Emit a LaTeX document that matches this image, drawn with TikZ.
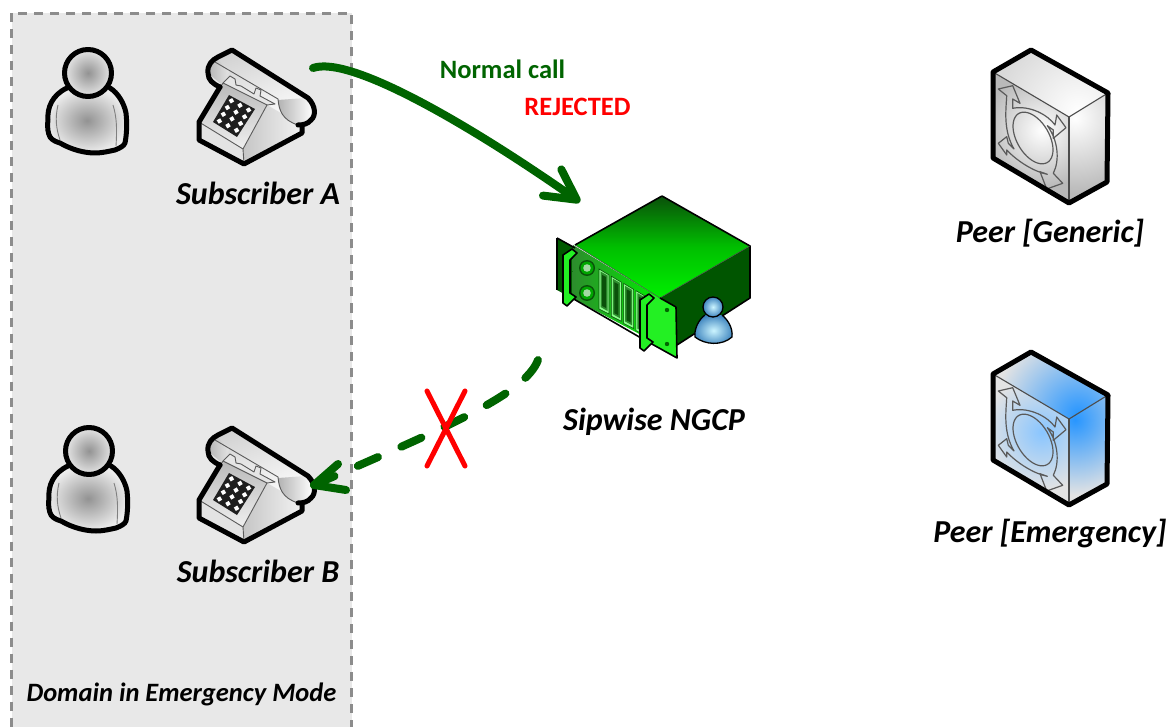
\documentclass[tikz,border=0pt]{standalone}
\usepackage{fontspec}
\setmainfont{Carlito}
\usetikzlibrary{arrows.meta}
\definecolor{callgreen}{RGB}{0,100,0}
\definecolor{boxgray}{RGB}{232,232,232}
\definecolor{dashgray}{RGB}{140,140,140}
\definecolor{linegray}{RGB}{90,90,90}
\definecolor{srvbright}{RGB}{0,240,0}
\definecolor{srvdark}{RGB}{10,80,10}
\definecolor{srvside}{RGB}{0,85,0}
\definecolor{srvlime}{RGB}{35,240,35}
\definecolor{srvleft}{RGB}{45,140,45}
\definecolor{peerblue}{RGB}{40,150,255}
\tikzset{
  x=1pt,y=-1pt,
  bigline/.style={line width=5pt,black,line join=round,line cap=round},
  thinline/.style={line width=.9pt,linegray,line join=round},
  label/.style={font=\bfseries\itshape\fontsize{32}{35}\selectfont,text=black,inner sep=0pt},
  callline/.style={line width=8pt,callgreen,line cap=round},
  xmark/.style={line width=5pt,red,line cap=round},
  srvline/.style={line width=1.6pt,black,line join=round}
}
\newcommand{\personicon}[2]{%
\begin{scope}[shift={(#1,#2)}]
  \shade[inner color=gray!85,outer color=gray!15] (67,88) .. controls (52,95) and (47,108) .. (48,120) .. controls (47,128) and (48,133) .. (50,137) .. controls (53,141) and (57,142) .. (60,143) .. controls (72,150) and (85,153) .. (95,153) .. controls (103,153) and (110,151) .. (115,150) .. controls (120,148) and (124,146) .. (125,143) .. controls (127,133) and (127,122) .. (126,113) .. controls (124,103) and (118,93) .. (110,88) -- cycle;
  \draw[thinline,gray] (58,105) .. controls (55,118) and (56,128) .. (60,140);
  \draw[thinline,gray] (113,105) .. controls (117,118) and (117,130) .. (116,146);
  \draw[bigline] (67,88) .. controls (52,95) and (47,108) .. (48,120) .. controls (47,128) and (48,133) .. (50,137) .. controls (53,141) and (57,142) .. (60,143) .. controls (72,150) and (85,153) .. (95,153) .. controls (103,153) and (110,151) .. (115,150) .. controls (120,148) and (124,146) .. (125,143) .. controls (127,133) and (127,122) .. (126,113) .. controls (124,103) and (118,93) .. (110,88);
  \shade[inner color=gray!85,outer color=gray!20] (88,73) circle[radius=23.5];
  \draw[bigline] (88,73) circle[radius=23.5];
\end{scope}}
\newcommand{\phoneicon}[1]{%
\begin{scope}[shift={(0,#1)}]
  % handset
  \shade[left color=gray!35,right color=white,shading angle=20] (208,73) .. controls (207,65) and (212,60) .. (218,57) -- (232,50) -- (308,98) .. controls (316,106) and (316,116) .. (311,120) .. controls (308,124) and (303,125) .. (298,125) -- (284,118) -- (224,84) -- cycle;
  % right side of body
  \shade[left color=gray!45,right color=gray!10] (243,149) -- (267,105) -- (302,125) -- (302,133) -- (244,164) -- cycle;
  % front of body
  \fill[gray!22] (199,122) -- (243,149) -- (244,164) -- (199,140) -- cycle;
  % key face
  \shade[top color=gray!55,bottom color=gray!12] (223,83) -- (267,105) -- (243,149) -- (199,122) -- cycle;
  % earpiece
  \shade[left color=gray!60,right color=white] (278,100) .. controls (279,110) and (282,120) .. (298,125) .. controls (306,124) and (312,119) .. (313,110) -- (306,98) -- cycle;
  \shade[left color=gray!60,right color=gray!20] (208,73) .. controls (207,65) and (212,60) .. (218,60) -- (230,70) -- (222,85) -- cycle;
  % cradle
  \draw[thinline,fill=white!80!gray] (223,83) -- (230,76) -- (235,79) -- (236,85) -- (241,86) -- (254,94) -- (256,88) -- (261,90) -- (260,96) -- (275,104) -- (267,105);
  \draw[thinline] (215,62) -- (278,99) .. controls (279,110) and (282,120) .. (298,125);
  \draw[thinline] (243,149) -- (267,105);
  \draw[thinline] (243,149) -- (244,164);
  \draw[thinline] (199,122) -- (243,149) ;
  \draw[thinline] (223,83) -- (199,122);
  \draw[thinline] (223,83) -- (267,105);
  % keypad
  \fill[black!88] (229,95) -- (255,109) -- (237,137) -- (213,122) -- cycle;
  \foreach \u in {.17,.5,.83}{
    \foreach \v in {.125,.375,.625,.875}{
      \fill[white,rotate around={30:({229+\u*26-\v*16},{95+\u*14+\v*27})}] ({229+\u*26-\v*16-2},{95+\u*14+\v*27-2}) rectangle ++(4,4);
    }}
  % outlines
  \draw[bigline] (220,87) .. controls (213,84) and (208,80) .. (208,73) .. controls (207,65) and (212,60) .. (218,57) -- (232,50) -- (308,98) .. controls (316,106) and (316,116) .. (311,120) .. controls (308,124) and (303,125) .. (298,125);
  \draw[bigline] (220,87) -- (199,122) -- (199,140) -- (244,164) -- (302,133) -- (302,126);
\end{scope}}
\newcommand{\peericon}[5]{%
% #1 y shift, #2 glow colour, #3 far colour, #4 top far colour, #5 front glow colour
\begin{scope}[shift={(0,#1)}]
  \begin{scope}
    \clip (1031,50) -- (1108,93) -- (1069,117) -- (993,72) -- cycle;
    \fill[#4] (960,30) rectangle (1130,130);
    \shade[inner color=#2,outer color=#4] (1078,112) circle[radius=85];
  \end{scope}
  \begin{scope}
    \clip (1069,117) -- (1108,93) -- (1107,182) -- (1069,203) -- cycle;
    \fill[#3] (1060,80) rectangle (1120,210);
    \shade[inner color=#2,outer color=#3] (1075,118) circle[radius=75];
  \end{scope}
  \begin{scope}
    \clip (993,72) -- (1069,117) -- (1069,203) -- (993,158) -- cycle;
    \fill[#3] (980,60) rectangle (1080,210);
    \shade[inner color=#5,outer color=#3] (1042,130) circle[radius=58];
  \end{scope}
  \draw[thinline,line width=1.2pt] (1006.7,95.7) -- (998.3,89) -- (1012.7,85.7) -- (1020,103.3) -- (1012.7,99) -- (1012.7,108.3) .. controls (1030,105) and (1048,115) .. (1055,125) -- (1056.7,115) -- (1066,127.7) -- (1053.3,138.3) -- (1053.3,130) -- (1047.3,125.7) .. controls (1058,140) and (1060,160) .. (1053.3,173.3) -- (1062.7,183.3) -- (1046.7,189) -- (1040,171.7) -- (1047.3,174.3) .. controls (1035,172) and (1018,162) .. (1006.7,150) -- (1006.7,155) -- (998.3,143.3) -- (1006.7,136.7) -- (1008.3,143.3) -- (1014,149) .. controls (1003,130) and (1006,110) .. (1006.7,95.7) -- cycle;
  \draw[thinline,line width=1.2pt] plot[domain=0:360,samples=48,smooth] ({1033+20*cos(\x)},{138+11.8*cos(\x)+23*sin(\x)});
  \draw[thinline,black!70,line width=1.1pt] (993,72) -- (1069,117) -- (1108,93);
  \draw[thinline,black!70,line width=1.1pt] (1069,117) -- (1069,203);
  \draw[bigline] (1031,50) -- (1108,93) -- (1107,182) -- (1069,203) -- (993,158) -- (993,72) -- cycle;
\end{scope}}
\begin{document}
\begin{tikzpicture}
  \useasboundingbox (0,0) rectangle (1175,727);
  \clip (0,0) rectangle (1175,727);
  \fill[white] (0,0) rectangle (1175,727);
  % domain box
  \draw[fill=boxgray,draw=dashgray,line width=2.2pt,dash pattern=on 9pt off 7pt] (11.5,13.5) rectangle (351.5,745);

  \personicon{0}{0}
  \personicon{1}{378}
  \phoneicon{0}
  \phoneicon{378}

  % Server
  \shade[top color=srvdark,bottom color=srvbright,middle color=green!75!black] (662,196) -- (750,246) -- (660,298) -- (575,245) -- cycle;
  \fill[srvside] (660,298) -- (750,246) -- (750,298) -- (677,345) -- (677,307) -- cycle;
  \fill[green!35!black] (557,238) -- (575,248) -- (575,300) -- (557,290) -- cycle;
  \shade[left color=srvleft,right color=srvbright] (573,245) -- (660,298) -- (660,345) -- (572,298) -- cycle;
  \fill[srvlime] (650,293) -- (676,307) -- (677,358) -- (641,338) -- cycle;
  \draw[srvline] (662,196) -- (750,246) -- (750,298) -- (677,345);
  \draw[srvline] (575,245) -- (662,196);
  \draw[black!70,line width=.5pt] (575,245) -- (660,298) -- (750,246);
  \draw[srvline] (557,238) -- (575,248);
  \draw[srvline] (557,238) -- (557,290);
  \draw[srvline] (572,298) -- (641,338);
  \draw[srvline] (660,298) -- (676,307) -- (677,358) -- (641,338);
  % knobs
  \foreach \cy in {268,293}{
    \fill[srvdark] (587,\cy) circle[radius=8];
    \fill[green!65!black] (587,\cy) circle[radius=6.5];
    \fill[green!30!white!70!gray] (587,\cy) circle[radius=3.8];
  }
  % slots
  \foreach \i in {0,1,2,3}{
    \begin{scope}[shift={(12.3*\i,7.2*\i)}]
      \fill[green!45!white,draw=srvdark,line width=.6pt] (599,269) -- (609,275) -- (609,314) -- (599,309) -- cycle;
      \fill[srvleft] (600.5,271.5) -- (607.5,275.5) -- (607.5,311) -- (600.5,307) -- cycle;
      \fill[srvdark] (602,275) -- (606,277) -- (606,308) -- (602,306) -- cycle;
    \end{scope}
  }
  % handles
  \foreach \dx/\dy in {0/0,77/45}{
    \begin{scope}[shift={(\dx,\dy)}]
      \draw[srvline,fill=srvlime] (563,255) -- (572,249) -- (577,253) -- (570,260) -- (570,293) -- (576,297) -- (567,306) -- (563,303) -- cycle;
    \end{scope}
  }
  % holes
  \fill[green!40!black] (667,310) circle[radius=2.2];
  \fill[green!40!black] (667,344) circle[radius=2.2];
  % mini person
  \shade[inner color=blue!20!cyan!20!white,outer color=blue!45!cyan!50!gray] (705,315) .. controls (698,320) and (694,330) .. (695,337) .. controls (705,345) and (722,346) .. (732,337) .. controls (733,328) and (728,320) .. (722,315) -- cycle;
  \draw[black,line width=1.3pt,line join=round] (705,315) .. controls (698,320) and (694,330) .. (695,337) .. controls (705,345) and (722,346) .. (732,337) .. controls (733,328) and (728,320) .. (722,315);
  \shade[inner color=blue!20!cyan!20!white,outer color=blue!45!cyan!50!gray] (713,307) circle[radius=10];
  \draw[black,line width=1.3pt] (713,307) circle[radius=10];

  \peericon{0}{white}{gray!55}{gray!30}{white}
  \peericon{302}{peerblue}{gray!22}{gray!22}{peerblue!55!white}

  % labels
  \node[label] (suba) at (258,193) {Subscriber A};
  \node[label] (subb) at (258,571) {Subscriber B};
  \node[label] (ngcp) at (654,422) {Sipwise NGCP};
  \node[label] (peerg) at (1050,233) {Peer [Generic]};
  \node[label] (peere) at (1050,534) {Peer [Emergency]};
  \node[label,font=\bfseries\itshape\fontsize{26.5}{29}\selectfont] (domain) at (181.5,694) {Domain in Emergency Mode};
  \node[inner sep=0pt,text=callgreen,font=\bfseries\fontsize{26.5}{29}\selectfont] (normal) at (502.5,69) {Normal call};
  \node[inner sep=0pt,text=red,font=\bfseries\fontsize{26.5}{29}\selectfont] (rejected) at (577.5,107) {REJECTED};

  % connectors
  \coordinate (callfrom) at (313,68);
  \coordinate (callto) at (580,202);
  \coordinate (rejfrom) at (538,360);
  \coordinate (rejto) at (314,485);
  \draw[callline,-{Straight Barb[length=30pt,width=32pt,line cap=round,line join=round]}] (callfrom) .. controls (350,55) and (470,125) .. (callto);
  \draw[callline,dash pattern=on 22pt off 25.5pt] (rejfrom) .. controls (525,395) and (440,430) .. (rejto);
  \draw[callline,line join=round] (338,464) -- (rejto) -- (346,490);
  \coordinate (xa) at (427,391);
  \coordinate (xb) at (465,466);
  \coordinate (xc) at (465,391);
  \coordinate (xd) at (427,466);
  \draw[xmark] (xa) -- (xb);
  \draw[xmark] (xc) -- (xd);
\end{tikzpicture}
\end{document}
